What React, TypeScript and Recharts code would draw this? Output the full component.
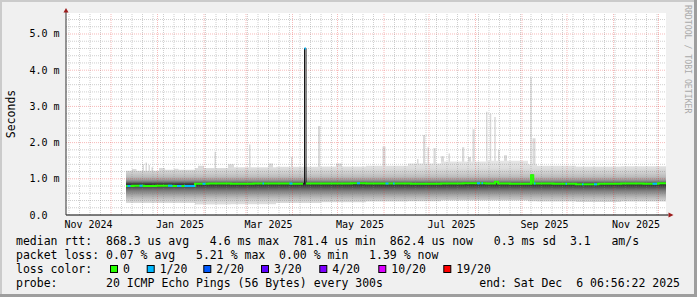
import {
  Area,
  CartesianGrid,
  ComposedChart,
  Line,
  ReferenceDot,
  ReferenceLine,
  XAxis,
  YAxis,
} from 'recharts'

const W = 697
const H = 297
const MONO = '"DejaVu Sans Mono", "Liberation Mono", monospace'

// x = days since 2024-11-01 (graph start), 400 day window ending Sat Dec 6 2025
const X_MAX = 400
const Y_MAX = 5.58
const PLOT_TOP = 13
const PLOT_BOTTOM = 215
const PLOT_LEFT = 66
const PLOT_RIGHT = 666

const monthStarts = [30, 61, 92, 120, 151, 181, 212, 242, 273, 304, 334, 365, 395]
const firstSunday = 2
const tickDays = [15, 76, 135, 196, 257, 319, 380]
const tickLabels = ['Nov 2024', 'Jan 2025', 'Mar 2025', 'May 2025', 'Jul 2025', 'Sep 2025', 'Nov 2025']
const yTicks = [0, 1, 2, 3, 4, 5]
const yTickLabels = ['0.0', '1.0 m', '2.0 m', '3.0 m', '4.0 m', '5.0 m']

// smoke envelope (ms)
const smokeDays = [40, 62, 86, 110, 140, 170, 200, 228, 250, 280, 308, 314, 340, 370, 400]
const smokeLo = [0.33, 0.33, 0.29, 0.3, 0.33, 0.35, 0.37, 0.38, 0.4, 0.4, 0.38, 0.37, 0.36, 0.37, 0.37]
const smokeHi = [1.22, 1.25, 1.3, 1.32, 1.33, 1.34, 1.36, 1.42, 1.48, 1.5, 1.4, 1.36, 1.34, 1.35, 1.35]

// light spikes above the smoke (slowest pings)
const peakStart = [44, 51, 53, 55, 57, 62, 72, 88, 99, 108, 122, 135, 150, 168, 180, 211, 234, 238, 241, 245, 250, 255, 264, 268, 271, 280, 282.5, 285.5, 288, 292, 309.5, 311]
const peakEnd = [47, 52, 54, 56, 58, 66, 75, 92, 100, 112, 123, 138, 151, 169.5, 184, 213, 235, 239.5, 242, 246.5, 252, 256, 265.5, 270, 272.5, 281, 283.5, 286.5, 289, 294, 310.5, 313]
const peakTop = [1.27, 1.4, 1.45, 1.38, 1.32, 1.3, 1.28, 1.36, 1.75, 1.4, 1.95, 1.42, 1.61, 2.46, 1.42, 1.89, 1.55, 2.21, 1.87, 1.85, 1.62, 1.7, 1.87, 1.6, 2.37, 2.85, 2.8, 2.71, 1.8, 1.65, 3.8, 2.12]

// median rtt (ms)
const medDays = [40, 45, 52, 60, 70, 78, 86, 95, 110, 125, 140, 150, 158, 159, 160, 175, 190, 200, 215, 230, 250, 265, 280, 286, 288, 296, 310, 311.5, 325, 340, 355, 370, 385, 395, 400]
const medVals = [0.8, 0.81, 0.8, 0.81, 0.8, 0.8, 0.86, 0.87, 0.86, 0.87, 0.87, 0.86, 0.86, 4.6, 0.87, 0.87, 0.88, 0.87, 0.87, 0.86, 0.87, 0.88, 0.87, 0.92, 0.87, 0.86, 1.1, 0.87, 0.86, 0.85, 0.86, 0.87, 0.86, 0.88, 0.87]
const blackOnly = [159] // median samples drawn only by the thin black line

// stretches with 1/20 packet loss [from, to]
const lossOneStart = [41, 49, 68, 74, 79, 91, 131, 149, 159, 194, 213, 218, 274, 277, 312, 333, 344, 352, 391]
const lossOneEnd = [43, 51, 71, 77, 86, 93, 132, 151, 160, 196, 215, 219, 276, 278, 313, 334, 345, 354, 394]

const lossLabels = ['0', '1/20', '2/20', '3/20', '4/20', '10/20', '19/20']
const lossColors = ['#26ff00', '#00b8ff', '#0059ff', '#5e00ff', '#7e00ff', '#dd00ff', '#ff0000']
const lossBoxX = [110, 146.7, 203.3, 261, 319.3, 378.3, 443.3]

const smokeData = smokeDays.map((d, i) => ({ d, r: [smokeLo[i], smokeHi[i]] }))
const peakData = peakStart.flatMap((s, i) => [
  { d: s, r: [1, peakTop[i]] },
  { d: peakEnd[i], r: [1, 1] },
])
const medData = medDays.map((d, i) => ({ d, v: medVals[i] }))
const greenData = medDays.map((d, i) => ({ d, v: blackOnly.includes(d) ? null : medVals[i] }))
const medAt = (day: number) => {
  let v = medVals[0]
  medDays.forEach((d, i) => {
    if (d <= day) v = medVals[i]
  })
  return v
}
const blueData = lossOneStart.flatMap((s, i) => [
  { d: s, v: medAt(s) },
  { d: lossOneEnd[i], v: medAt(s) },
  { d: lossOneEnd[i], v: null },
])

const yPix = (v: number) => PLOT_BOTTOM - (v / Y_MAX) * (PLOT_BOTTOM - PLOT_TOP)
const SMOKE_TOP = 1.5
const SMOKE_BOTTOM = 0.28
const smokeShades: [number, string][] = [
  [1.5, '#e6e6e6'],
  [1.3, '#dddddd'],
  [1.18, '#d0d0d0'],
  [1.06, '#bcbcbc'],
  [0.97, '#9d9d9d'],
  [0.91, '#747474'],
  [0.875, '#4a4a4a'],
  [0.83, '#333333'],
  [0.77, '#505050'],
  [0.69, '#767676'],
  [0.59, '#9a9a9a'],
  [0.49, '#b8b8b8'],
  [0.39, '#d2d2d2'],
  [0.28, '#e2e2e2'],
]

const minorH = Array.from({ length: 27 }, (_, k) => Math.round((k + 1) * 2) / 10).filter((v) => v % 1 !== 0)
const minorV = Array.from({ length: 58 }, (_, k) => firstSunday + k * 7).filter(
  (d) => d < X_MAX && !monthStarts.includes(d),
)

const MINOR = 'rgba(128,128,128,0.38)'
const MAJOR = 'rgba(230,40,40,0.32)'

const XTick = ({ x, payload }: any) => (
  <text x={x} y={228} textAnchor="middle" fontFamily={MONO} fontSize={10} fill="#000">
    {tickLabels[tickDays.indexOf(payload.value)]}
  </text>
)

const YTick = ({ y, payload }: any) => (
  <text x={29.5} y={y + 3.5} textAnchor="start" fontFamily={MONO} fontSize={10} fill="#000">
    {yTickLabels[yTicks.indexOf(payload.value)]}
  </text>
)

const UpArrow = ({ cx, cy }: any) => (
  <g>
    <line x1={cx} x2={cx} y1={cy} y2={cy - 1} stroke="#333" />
    <polygon points={`${cx - 2.5},${cy - 0.5} ${cx + 2.5},${cy - 0.5} ${cx},${cy - 5}`} fill="#9c1c1c" />
  </g>
)

const RightArrow = ({ cx, cy }: any) => (
  <g>
    <line x1={cx} x2={cx + 2.5} y1={cy} y2={cy} stroke="#000" />
    <polygon points={`${cx + 2.5},${cy - 2.5} ${cx + 2.5},${cy + 2.5} ${cx + 7.5},${cy}`} fill="#9c1c1c" />
  </g>
)

const legendLines = [
  'median rtt:  868.3 us avg   4.6 ms max  781.4 us min  862.4 us now   0.3 ms sd  3.1   am/s',
  'packet loss: 0.07 % avg   5.21 % max  0.00 % min   1.39 % now',
  'loss color:',
  'probe:       20 ICMP Echo Pings (56 Bytes) every 300s',
]
const legendBase = [244.5, 258.5, 272.5, 286.5]

export default function App() {
  return (
    <div style={{ position: 'absolute', left: 0, top: 0, width: W, height: H, background: '#f0f0f0' }}>
      <div style={{ position: 'absolute', left: 0, top: 0 }}>
        <ComposedChart
          width={W}
          height={235}
          margin={{ top: PLOT_TOP, right: W - PLOT_RIGHT, bottom: 0, left: 0 }}
        >
          <defs>
            <linearGradient
              id="smoke"
              gradientUnits="userSpaceOnUse"
              x1="0"
              x2="0"
              y1={yPix(SMOKE_TOP)}
              y2={yPix(SMOKE_BOTTOM)}
            >
              {smokeShades.map(([v, c]) => (
                <stop key={v} offset={(SMOKE_TOP - v) / (SMOKE_TOP - SMOKE_BOTTOM)} stopColor={c} />
              ))}
            </linearGradient>
          </defs>
          <CartesianGrid fill="#ffffff" horizontal={false} vertical={false} />
          <XAxis
            type="number"
            dataKey="d"
            domain={[0, X_MAX]}
            ticks={tickDays}
            interval={0}
            allowDataOverflow
            tick={<XTick />}
            tickLine={false}
            axisLine={{ stroke: '#000' }}
            height={20}
          />
          <YAxis
            type="number"
            domain={[0, Y_MAX]}
            ticks={yTicks}
            interval={0}
            allowDataOverflow
            tick={<YTick />}
            tickLine={false}
            axisLine={{ stroke: '#333' }}
            width={PLOT_LEFT}
          />
          <Area
            data={peakData}
            dataKey="r"
            type="stepAfter"
            stroke="none"
            fill="#dadada"
            fillOpacity={1}
            isAnimationActive={false}
          />
          <Area
            data={smokeData}
            dataKey="r"
            type="stepAfter"
            stroke="none"
            fill="url(#smoke)"
            fillOpacity={1}
            isAnimationActive={false}
          />
          {minorH.map((v) => (
            <ReferenceLine key={`mh${v}`} y={v} stroke={MINOR} strokeDasharray="1 1" />
          ))}
          {minorV.map((d) => (
            <ReferenceLine key={`mv${d}`} x={d} stroke={MINOR} strokeDasharray="1 1" />
          ))}
          {yTicks.slice(1).map((v) => (
            <ReferenceLine key={`Mh${v}`} y={v} stroke={MAJOR} strokeDasharray="1 1" />
          ))}
          {monthStarts.map((d) => (
            <ReferenceLine key={`Mv${d}`} x={d} stroke={MAJOR} strokeDasharray="1 1" />
          ))}
          <Line
            data={medData}
            dataKey="v"
            type="stepAfter"
            stroke="#151515"
            strokeWidth={1}
            dot={false}
            isAnimationActive={false}
          />
          <Line
            data={greenData}
            dataKey="v"
            type="stepAfter"
            stroke="#26ff00"
            strokeWidth={2}
            dot={false}
            isAnimationActive={false}
          />
          <Line
            data={blueData}
            dataKey="v"
            type="stepAfter"
            stroke="#00b8ff"
            strokeWidth={2}
            dot={false}
            isAnimationActive={false}
          />
          <ReferenceDot x={0} y={Y_MAX} ifOverflow="visible" shape={<UpArrow />} />
          <ReferenceDot x={X_MAX} y={0} ifOverflow="visible" shape={<RightArrow />} />
        </ComposedChart>
      </div>
      <svg
        width={W}
        height={H}
        style={{ position: 'absolute', left: 0, top: 0, pointerEvents: 'none' }}
        fontFamily={MONO}
      >
        <rect x={0} y={0} width={W} height={2} fill="#cbcbcb" />
        <rect x={0} y={0} width={2} height={H} fill="#cbcbcb" />
        <rect x={W - 3} y={0} width={3} height={H} fill="#9e9e9e" />
        <rect x={0} y={H - 3} width={W} height={3} fill="#9e9e9e" />
        <text transform="translate(14.5,114) rotate(-90)" textAnchor="middle" fontSize={11.5} fill="#000">
          Seconds
        </text>
        <text transform="translate(685,5) rotate(90)" fontSize={8.2} fill="#aaaaaa">
          RRDTOOL / TOBI OETIKER
        </text>
        {legendLines.map((t, i) => (
          <text key={i} x={16} y={legendBase[i]} fontSize={11.5} fill="#000" style={{ whiteSpace: 'pre' }}>
            {t}
          </text>
        ))}
        <text x={680} y={legendBase[3]} textAnchor="end" fontSize={11.5} fill="#000" style={{ whiteSpace: 'pre' }}>
          end: Sat Dec  6 06:56:22 2025
        </text>
        {lossLabels.map((l, i) => (
          <g key={l}>
            <rect
              x={lossBoxX[i] + 0.5}
              y={265.5}
              width={7}
              height={7}
              fill={lossColors[i]}
              stroke="#000"
              strokeWidth={1}
            />
            <text x={lossBoxX[i] + 13} y={legendBase[2]} fontSize={11.5} fill="#000">
              {l}
            </text>
          </g>
        ))}
      </svg>
    </div>
  )
}
